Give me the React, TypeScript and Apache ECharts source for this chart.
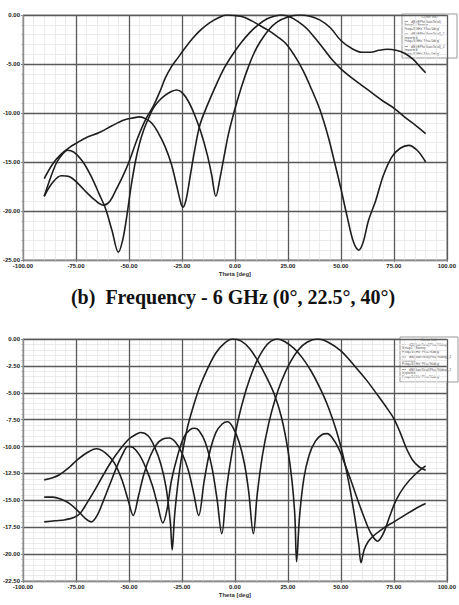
import React, { useEffect, useRef } from "react";
import * as echarts from "echarts";

// ---------- Top chart (steering 0°, 22.5°, 40°) ----------
const topXTicks = [-100, 100, 25];
const topYTicks = [-25, 0, 5];
const topMinor = [5, 1];
const top0: [number, number][] = [
  [-90, -18.5], [-86, -17.1], [-82, -16.4], [-78, -16.5], [-74, -17.2], [-70, -18.1], [-66, -18.9],
  [-62, -19.4], [-59, -19.0], [-56, -17.8], [-53, -16.5], [-50, -15.0], [-46, -12.6], [-42, -10.6],
  [-38.5, -9.3], [-35, -7.6], [-33, -6.5], [-30, -5.3], [-27, -4.4], [-24, -3.5], [-20, -2.4],
  [-16, -1.5], [-12, -0.8], [-8, -0.3], [-4, 0], [0, -0.05], [4, -0.2], [8, -0.6], [12, -1.1],
  [16, -1.6], [20, -2.2], [24, -2.9], [28, -4.1], [32, -5.6], [36, -7.5], [40, -9.6], [44, -12.4],
  [47, -15.0], [50, -17.7], [53, -20.6], [56, -23.2], [58.5, -24], [60.5, -23.2], [63, -21],
  [66.5, -18.9], [70, -16.4], [74, -14.5], [78, -13.6], [82, -13.3], [86, -13.8], [90, -15],
];
const top22: [number, number][] = [
  [-90, -16.7], [-86, -15.2], [-82, -14.2], [-78, -13.5], [-75, -13.1], [-70, -12.5], [-64, -12.0],
  [-58, -11.3], [-52, -10.7], [-48, -10.5], [-45, -10.4], [-42, -10.6], [-39, -11.1], [-36, -12.1],
  [-33, -13.4], [-30, -15.2], [-27.5, -17.4], [-25.5, -19.2], [-24.5, -19.6], [-23, -18.8],
  [-21, -16.3], [-19, -13.8], [-16.5, -11.2], [-13, -9.2], [-9, -7.2], [-5, -5.4], [-1, -4.0],
  [3, -2.8], [7, -1.8], [11, -1.0], [15, -0.4], [19, -0.1], [22, 0], [26, -0.2], [30, -0.7],
  [34, -1.4], [38, -2.4], [42, -3.5], [46, -4.6], [50, -5.5], [55, -6.4], [60, -7.2], [65, -8.0],
  [70, -8.8], [75, -9.5], [80, -10.4], [85, -11.2], [90, -12.1],
];
const top40: [number, number][] = [
  [-90, -18.5], [-87, -16.6], [-84, -15.0], [-81, -14.1], [-79, -13.8], [-76, -14.0], [-72, -14.9],
  [-68, -16.4], [-64, -18.3], [-61, -19.8], [-58, -22.0], [-55, -24.2], [-53, -23.0], [-51, -20.5],
  [-49, -17.5], [-47, -15.0], [-45, -13.1], [-43, -11.7], [-40.5, -10.4], [-38.5, -9.5], [-36, -8.8],
  [-33, -8.2], [-30, -7.8], [-27.5, -7.65], [-25, -7.9], [-22, -8.8], [-19, -10.2], [-16, -12.0],
  [-13, -14.3], [-11, -16.3], [-9, -18.5], [-7, -16.6], [-5, -14.3], [-3, -12.1], [0, -9.6],
  [3, -7.4], [6, -5.5], [9, -3.9], [12, -2.7], [16, -1.5], [20, -0.7], [25, -0.2], [30, 0],
  [35, -0.1], [40, -0.5], [45, -1.3], [50, -2.6], [55, -3.4], [60, -3.8], [64, -3.8], [68, -3.6],
  [72, -3.5], [76, -3.6], [80, -3.9], [84, -4.5], [87, -5.2], [90, -5.9],
];

// ---------- Bottom chart ----------
const botXTicks = [-100, 100, 25];
const botYTicks = [-22.5, 0, 2.5];
const botMinor = [5, 0.5];
const bot0: [number, number][] = [
  [-90, -17.0], [-85, -16.9], [-80, -16.8], [-76, -16.6], [-73, -16.2], [-70, -15.3], [-66, -14.0],
  [-62, -12.6], [-58, -11.3], [-54, -10.2], [-50, -9.3], [-47, -8.9], [-44.5, -8.7], [-41, -9.0],
  [-38, -10.0], [-35, -11.6], [-32.5, -13.8], [-30.5, -17.0], [-29.6, -19.6], [-28.5, -16.5],
  [-27, -13.6], [-25, -10.8], [-22.5, -8.3], [-20, -6.5], [-16.5, -4.4], [-13, -2.8], [-9, -1.3],
  [-5, -0.4], [-1, 0], [3, -0.2], [7, -0.9], [11, -2.1], [15, -3.6], [18.7, -5.2], [22, -7.3],
  [25, -10.3], [27, -13.3], [28.3, -16.5], [29.1, -20.7], [30.5, -16.5], [32.5, -13.0], [35, -10.8],
  [38, -9.5], [41, -8.9], [43.5, -8.8], [46, -9.2], [49, -10.2], [52, -11.7], [55, -13.3],
  [58, -15.0], [61, -16.6], [64, -18.0], [67.3, -18.8], [70, -18.1], [73, -16.5], [76, -15.0],
  [80, -13.7], [85, -12.6], [90, -11.8],
];
const bot22: [number, number][] = [
  [-90, -14.7], [-86, -14.7], [-82, -14.9], [-78, -15.3], [-74, -16.0], [-70.5, -16.7], [-67.8, -17.0],
  [-65, -16.4], [-62, -15.0], [-59, -13.5], [-56, -12.0], [-53, -10.7], [-50.5, -10.0], [-48, -10.1],
  [-45, -10.8], [-42, -12.0], [-39, -13.6], [-36.5, -15.4], [-34, -17.1], [-32, -15.8], [-30, -13.2],
  [-27, -10.8], [-24, -9.1], [-21, -8.4], [-19, -8.3], [-17, -8.5], [-14, -9.6], [-11, -11.8],
  [-8.5, -14.8], [-6.2, -18.1], [-4, -14.0], [-2, -11.3], [1, -8.0], [4, -5.6], [7, -3.7],
  [10, -2.2], [13, -1.1], [16, -0.35], [20, 0], [24, -0.3], [28, -0.9], [32, -1.8], [36, -3.0],
  [40, -4.5], [44, -6.3], [48, -8.6], [51, -10.8], [54, -13.6], [56.5, -16.5], [58.5, -19.2],
  [59.5, -20.8], [61, -19.6], [63, -18.8], [66, -18.2], [70, -17.6], [75, -17.0], [80, -16.4],
  [85, -15.8], [90, -15.3],
];
const bot40: [number, number][] = [
  [-90, -13.1], [-86, -12.9], [-82.6, -12.6], [-78, -11.9], [-74.8, -11.3], [-70, -10.6], [-65.4, -10.2],
  [-61, -10.6], [-57, -11.5], [-53.5, -13.0], [-50.5, -14.9], [-48, -16.4], [-45.5, -14.6], [-43, -12.6],
  [-40, -10.9], [-37, -9.8], [-34, -9.3], [-31, -9.2], [-28, -9.6], [-25, -10.6], [-22, -12.2],
  [-19.5, -14.3], [-17.1, -16.4], [-14.5, -13.2], [-12, -10.6], [-9, -8.7], [-6, -7.9], [-3.5, -7.7],
  [-1, -8.2], [2, -9.6], [4.5, -11.6], [6.5, -14.2], [8.7, -18.1], [10.5, -14.5], [13, -10.8],
  [16, -7.8], [19, -5.6], [22, -3.9], [26, -2.2], [30, -1.0], [34, -0.3], [39, 0], [44, -0.3],
  [50, -1.1], [56, -2.4], [62, -3.8], [68, -5.4], [72, -6.5], [75, -7.4], [78, -8.7], [81, -10.2],
  [84, -11.3], [87, -11.9], [90, -12.2],
];

const caption = "(b)\u00a0\u00a0Frequency - 6 GHz (0°, 22.5°, 40°)";
const xName = "Theta [deg]";
const legendTitle = "Curve Info";
const topLegend = [
  ["dB(rEPhi/GainTotal)", "Setup1 : Sweep", "Freq='6GHz' Phi='0deg'"],
  ["dB(rEPhi/GainTotal)_1", "Imported", "Freq='6GHz' Phi='0deg'"],
  ["dB(rEPhi/GainTotal)_2", "Imported", "Freq='6GHz' Phi='0deg'"],
];
const botLegend = [
  ["dB(GainTotal)Phi='90deg'", "Setup1 : Sweep", "Freq='6GHz' Phi='90deg'"],
  ["dB(GainTotal)Phi='90deg'_1", "Imported", "Freq='6GHz' Phi='90deg'"],
  ["dB(GainTotal)Phi='90deg'_2", "Imported", "Freq='6GHz' Phi='90deg'"],
];

const LINE = "#1e1e1e";
const MAJOR = "#595959";
const MINOR = "#e6e6e6";
const LABEL_FONT = "Liberation Sans";

function legendGraphic(x: number, y: number, w: number, h: number, entries: string[][], gap: number) {
  const children: any[] = [
    { type: "rect", shape: { x: 0, y: 0, width: w, height: h }, style: { fill: "#fff", stroke: "#9a9a9a", lineWidth: 1 } },
    { type: "text", x: w / 2, y: 2.8, style: { text: legendTitle, fontSize: 3.5, fill: "#555", align: "center", verticalAlign: "middle", fontFamily: LABEL_FONT } },
  ];
  entries.forEach((lines, i) => {
    const y0 = 7.5 + i * gap;
    children.push({ type: "line", shape: { x1: 2, y1: y0, x2: 6, y2: y0 }, style: { stroke: "#555", lineWidth: 0.6 } });
    lines.forEach((t, j) => {
      children.push({
        type: "text",
        x: j === 0 ? 9 : 2,
        y: y0 + j * 3.6,
        style: { text: t, fontSize: 3.4, fill: "#555", align: "left", verticalAlign: "middle", fontFamily: LABEL_FONT },
      });
    });
  });
  return { type: "group", x, y, children };
}

const labelFmt = (v: number) => v.toFixed(2);

function majorX(gridIndex: number, ticks: number[]) {
  return {
    type: "value", gridIndex, z: 1,
    min: ticks[0], max: ticks[1], interval: ticks[2],
    name: xName, nameLocation: "middle", nameGap: 11,
    nameTextStyle: { fontSize: 6, color: "#333", fontFamily: LABEL_FONT, fontWeight: "bold" },
    axisLine: { show: true, onZero: false, lineStyle: { color: "#8a8a8a", width: 1 } },
    axisTick: { show: true, length: 2, lineStyle: { color: "#888" } },
    minorTick: { show: true, splitNumber: 5, length: 1.5, lineStyle: { color: "#aaa" } },
    axisLabel: { fontSize: 6, color: "#222", fontWeight: "bold", fontFamily: LABEL_FONT, margin: 3, formatter: labelFmt },
    splitLine: { show: true, lineStyle: { color: MAJOR, width: 1.3 } },
  };
}
function majorY(gridIndex: number, ticks: number[]) {
  return {
    type: "value", gridIndex, z: 1,
    min: ticks[0], max: ticks[1], interval: ticks[2],
    axisLine: { show: true, onZero: false, lineStyle: { color: "#8a8a8a", width: 1 } },
    axisTick: { show: true, length: 2, lineStyle: { color: "#888" } },
    minorTick: { show: true, splitNumber: 5, length: 1.5, lineStyle: { color: "#aaa" } },
    axisLabel: { fontSize: 6, color: "#222", fontWeight: "bold", fontFamily: LABEL_FONT, margin: 3, formatter: labelFmt },
    splitLine: { show: true, lineStyle: { color: MAJOR, width: 1.3 } },
  };
}
function minorAxis(gridIndex: number, ticks: number[], step: number, pos: string) {
  return {
    type: "value", gridIndex, z: 0, position: pos,
    min: ticks[0], max: ticks[1], interval: step,
    axisLine: { show: false }, axisTick: { show: false }, axisLabel: { show: false },
    splitLine: { show: true, lineStyle: { color: MINOR, width: 0.8 } },
  };
}

function lineSeries(data: [number, number][], idx: number) {
  return {
    type: "line", xAxisIndex: idx, yAxisIndex: idx, z: 3,
    data, showSymbol: false, smooth: 0.35,
    lineStyle: { color: LINE, width: 1.6 },
    itemStyle: { color: LINE }, silent: true,
  };
}

export default function App() {
  const ref = useRef<HTMLDivElement>(null);
  useEffect(() => {
    if (!ref.current) return;
    const chart = echarts.init(ref.current, undefined, { renderer: "svg" });
    chart.setOption({
      animation: false,
      backgroundColor: "#fff",
      grid: [
        { left: 21, top: 15, width: 430, height: 245, show: true, borderColor: "#a0a0a0", borderWidth: 1 },
        { left: 21, top: 339, width: 428, height: 242, show: true, borderColor: "#a0a0a0", borderWidth: 1 },
      ],
      xAxis: [
        majorX(0, topXTicks), majorX(1, botXTicks),
        minorAxis(0, topXTicks, topMinor[0], "bottom"), minorAxis(1, botXTicks, botMinor[0], "bottom"),
      ],
      yAxis: [
        majorY(0, topYTicks), majorY(1, botYTicks),
        minorAxis(0, topYTicks, topMinor[1], "left"), minorAxis(1, botYTicks, botMinor[1], "left"),
      ],
      series: [
        lineSeries(top0, 0), lineSeries(top22, 0), lineSeries(top40, 0),
        lineSeries(bot0, 1), lineSeries(bot22, 1), lineSeries(bot40, 1),
      ],
      graphic: [
        {
          type: "text", x: 233, y: 297, z: 10,
          style: { text: caption, fontSize: 20, fontWeight: "bold", fontFamily: "Liberation Serif", fill: "#111", align: "center", verticalAlign: "middle" },
        },
        { ...legendGraphic(402, 14, 55, 44, topLegend, 12.5), z: 10 },
        { ...legendGraphic(400, 337, 58, 45, botLegend, 12.5), z: 10 },
      ],
    });
    return () => chart.dispose();
  }, []);
  return <div ref={ref} style={{ position: "absolute", left: 0, top: 0, width: 459, height: 605 }} />;
}
